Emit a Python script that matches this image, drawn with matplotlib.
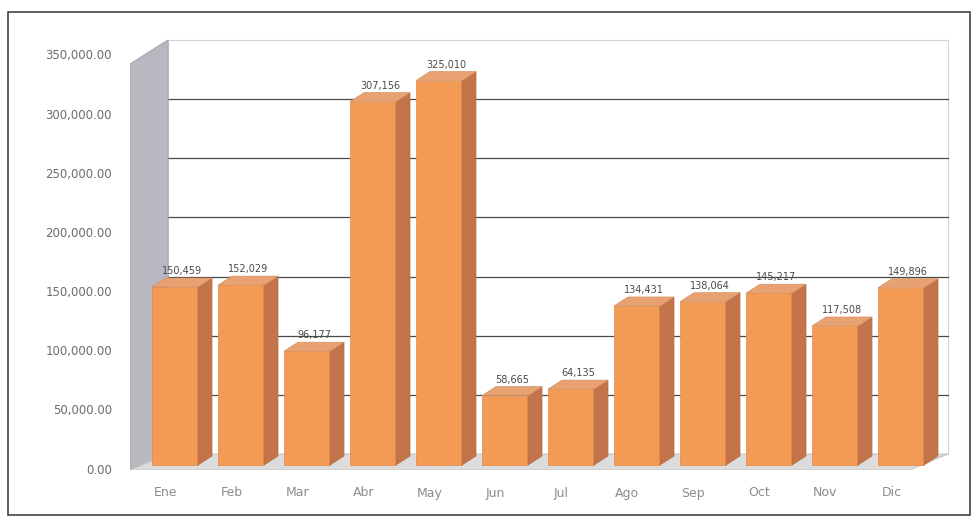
import numpy as np
import matplotlib
matplotlib.use('Agg')
import matplotlib.pyplot as plt
from matplotlib.patches import Polygon, Rectangle

meses = ['Ene', 'Feb', 'Mar', 'Abr', 'May', 'Jun', 'Jul', 'Ago', 'Sep', 'Oct', 'Nov', 'Dic']
valores = [150459, 152029, 96177, 307156, 325010, 58665, 64135,
           134431, 138064, 145217, 117508, 149896]
etiquetas = ['150,459', '152,029', '96,177', '307,156', '325,010', '58,665', '64,135',
             '134,431', '138,064', '145,217', '117,508', '149,896']
y_ticks = [0, 50000, 100000, 150000, 200000, 250000, 300000, 350000]

W, H = 972, 519
PX_X = 66.0            # pixeles por categoria
PX_Y = 350000 / 414.0  # valor por pixel
X0 = 172               # centro de la primera barra (px)
Y0 = 470               # linea del cero (px)

fig = plt.figure(figsize=(W / 100, H / 100), dpi=100)
fig.patch.set_facecolor('white')

# ejes en coordenadas de datos: x = categoria, y = valor
left_px, right_px, top_px = 130, 965, 36
ax = fig.add_axes([left_px / W, (H - Y0) / H, (right_px - left_px) / W, (Y0 - top_px) / H])
ax.set_xlim((left_px - X0) / PX_X, (right_px - X0) / PX_X)
ax.set_ylim(0, (Y0 - top_px) * PX_Y)
ax.axis('off')

# profundidad de la pared y de las barras
DX = 38 / PX_X
DY = 16 * PX_Y
bx0 = 3 / PX_X
by0 = 5 * PX_Y
bdx = 14 / PX_X
bdy = 9 * PX_Y
bw = 46 / PX_X

xl = (left_px - X0) / PX_X
xr_back = (948 - X0) / PX_X
ymax = 350000

# pared del fondo
ax.add_patch(Polygon([(xl + DX, DY), (xr_back, DY), (xr_back, ymax + DY), (xl + DX, ymax + DY)],
                     closed=True, facecolor='white', edgecolor='#d4d4d4', lw=0.8, zorder=1))
for v in y_ticks[1:-1]:
    ax.plot([xl + DX, xr_back], [v + DY, v + DY], color='#4a4a4a', lw=0.9, zorder=2)

# pared izquierda
ax.add_patch(Polygon([(xl, 0), (xl + DX, DY), (xl + DX, ymax + DY), (xl, ymax - 8 * PX_Y)],
                     closed=True, facecolor='#b9b8c0', edgecolor='#a8a8b0', lw=0.8, zorder=3))

# piso
ax.add_patch(Polygon([(xl, 0), (xr_back - DX, 0), (xr_back, DY), (xl + DX, DY)],
                     closed=True, facecolor='#dcdcdc', edgecolor='#c8c8c8', lw=0.8, zorder=3))

# barras
for i, v in enumerate(valores):
    x1 = i - bw / 2 + bx0
    x2 = i + bw / 2 + bx0
    y1 = by0
    y2 = v + by0
    frente = Polygon([(x1, y1), (x2, y1), (x2, y2), (x1, y2)], closed=True,
                     facecolor='#f39a55', edgecolor='#e08a48', lw=0.5, zorder=5)
    lado = Polygon([(x2, y1), (x2 + bdx, y1 + bdy), (x2 + bdx, y2 + bdy), (x2, y2)], closed=True,
                   facecolor='#c4744a', edgecolor='#b86a40', lw=0.5, zorder=5)
    tapa = Polygon([(x1, y2), (x2, y2), (x2 + bdx, y2 + bdy), (x1 + bdx, y2 + bdy)], closed=True,
                   facecolor='#e8a272', edgecolor='#d89060', lw=0.5, zorder=5)
    ax.add_patch(frente)
    ax.add_patch(lado)
    ax.add_patch(tapa)
    ax.text(i + bx0 + bdx / 2, y2 + bdy + 2 * PX_Y, etiquetas[i], ha='center', va='bottom',
            fontsize=7, color='#4a4a4a', zorder=6)
    ax.text(i - 0.1, -23 * PX_Y, meses[i], ha='center', va='center',
            fontsize=9, color='#8c8c8c', clip_on=False)

# etiquetas del eje y
for v in y_ticks:
    ax.text((112 - X0) / PX_X, v, '{:,.2f}'.format(v), ha='right', va='center',
            fontsize=8.5, color='#6c6c6c', clip_on=False)

# marco exterior
fig.patches.append(Rectangle((8 / W, 4 / H), 962 / W, (H - 16) / H, transform=fig.transFigure,
                             fill=False, edgecolor='#444444', lw=1.2))

fig.savefig('out.png', dpi=100)
